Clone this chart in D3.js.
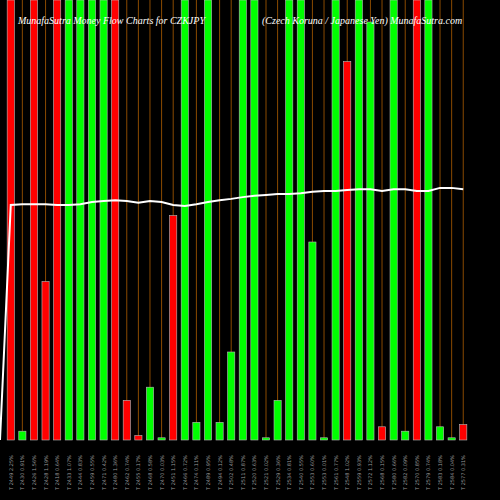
<!doctype html>
<html lang="en">
<head>
<meta charset="utf-8">
<script src="https://cdnjs.cloudflare.com/ajax/libs/d3/7.8.5/d3.min.js"></script>
<style>body{margin:0;background:#000;}</style>
</head>
<body>
<div id="chart"></div>
<script>
/* data */
var dates = ['T 2449 2.25%','T 2430 0.91%','T 2426 1.56%','T 2428 1.19%','T 2418 0.64%','T 2433 1.07%','T 2444 0.83%','T 2459 0.55%','T 2471 0.42%','T 2480 1.36%',
	'T 2462 0.74%','T 2455 0.17%','T 2468 0.58%','T 2470 0.03%','T 2451 1.15%','T 2466 0.72%','T 2474 0.11%','T 2489 0.95%','T 2494 0.12%','T 2502 0.48%',
	'T 2511 0.87%','T 2520 0.63%','T 2521 0.02%','T 2529 0.36%','T 2534 0.81%','T 2540 0.55%','T 2553 0.60%','T 2553 0.01%','T 2561 0.77%','T 2548 1.02%',
	'T 2559 0.93%','T 2572 1.12%','T 2568 0.15%','T 2580 0.66%','T 2582 0.09%','T 2570 0.85%','T 2579 0.74%','T 2583 0.18%','T 2584 0.04%','T 2577 0.31%'];
var colors = ['r','g','r','r','r','g','g','g','g','r',
	'r','r','g','g','r','g','g','g','g','g',
	'g','g','g','g','g','g','g','g','g','r',
	'g','g','r','g','g','r','g','g','g','r'];
var volumes = [100,2,100,36,100,100,100,100,100,100,
	9,1,12,0.5,51,100,4,100,4,20,
	100,100,0.5,9,100,100,45,0.5,100,86,
	100,95,3,100,2,100,100,3,0.5,3.5];
var lineVals = [53.4,53.6,53.6,53.6,53.4,53.4,53.6,54.1,54.3,54.5,
	54.3,53.9,54.3,54.1,53.4,53.2,53.6,54.1,54.5,54.8,
	55.2,55.5,55.7,55.9,55.9,56.1,56.4,56.6,56.6,56.8,
	57.0,57.0,56.6,57.0,57.0,56.6,56.6,57.3,57.3,57.0];

var W = 500, H = 500, base = 440;
var svg = d3.select('#chart').append('svg').attr('width', W).attr('height', H);
svg.append('rect').attr('width', W).attr('height', H).attr('fill', '#000');

var x = d3.scaleBand().domain(d3.range(dates.length)).range([6, 468]).paddingInner(0.38).paddingOuter(0.1);
var y = d3.scaleLinear().domain([0, 100]).range([base, 0]);

svg.selectAll('line.grid').data(dates).enter().append('line')
	.attr('class', 'grid')
	.attr('x1', function(d, i){ return x(i) + x.bandwidth()/2; })
	.attr('x2', function(d, i){ return x(i) + x.bandwidth()/2; })
	.attr('y1', 0).attr('y2', base)
	.style('stroke', '#8a4a00').style('stroke-width', 1);

svg.selectAll('rect.bar').data(volumes).enter().append('rect')
	.attr('class', 'bar')
	.attr('x', function(d, i){ return x(i); })
	.attr('width', x.bandwidth())
	.attr('y', function(d){ return y(d); })
	.attr('height', function(d){ return base - y(d); })
	.style('fill', function(d, i){ return colors[i] == 'g' ? '#00ff00' : '#ff0000'; })
	.style('stroke', '#bbb').style('stroke-width', 0.6);

var pts = [[0, base]].concat(lineVals.map(function(v, i){ return [x(i) + x.bandwidth()/2, y(v)]; }));
svg.append('path').datum(pts)
	.attr('d', d3.line().x(function(d){ return d[0]; }).y(function(d){ return d[1]; }))
	.style('fill', 'none').style('stroke', '#fff').style('stroke-width', 2);

svg.selectAll('text.lbl').data(dates).enter().append('text')
	.attr('class', 'lbl')
	.attr('transform', function(d, i){ return 'translate(' + (x(i) + x.bandwidth()/2 + 2) + ',490) rotate(-90)'; })
	.style('fill', '#999').style('font-size', '5px').style('font-family', 'DejaVu Sans')
	.text(function(d){ return d; });

svg.append('text').attr('x', 18).attr('y', 24)
	.style('fill', '#fff').style('font', 'italic 10px "Liberation Serif"')
	.text('MunafaSutra  Money Flow  Charts for CZKJPY');
svg.append('text').attr('x', 262).attr('y', 24)
	.style('fill', '#fff').style('font', 'italic 10px "Liberation Serif"')
	.text('(Czech Koruna  / Japanese  Yen) MunafaSutra.com');
</script>
</body>
</html>
